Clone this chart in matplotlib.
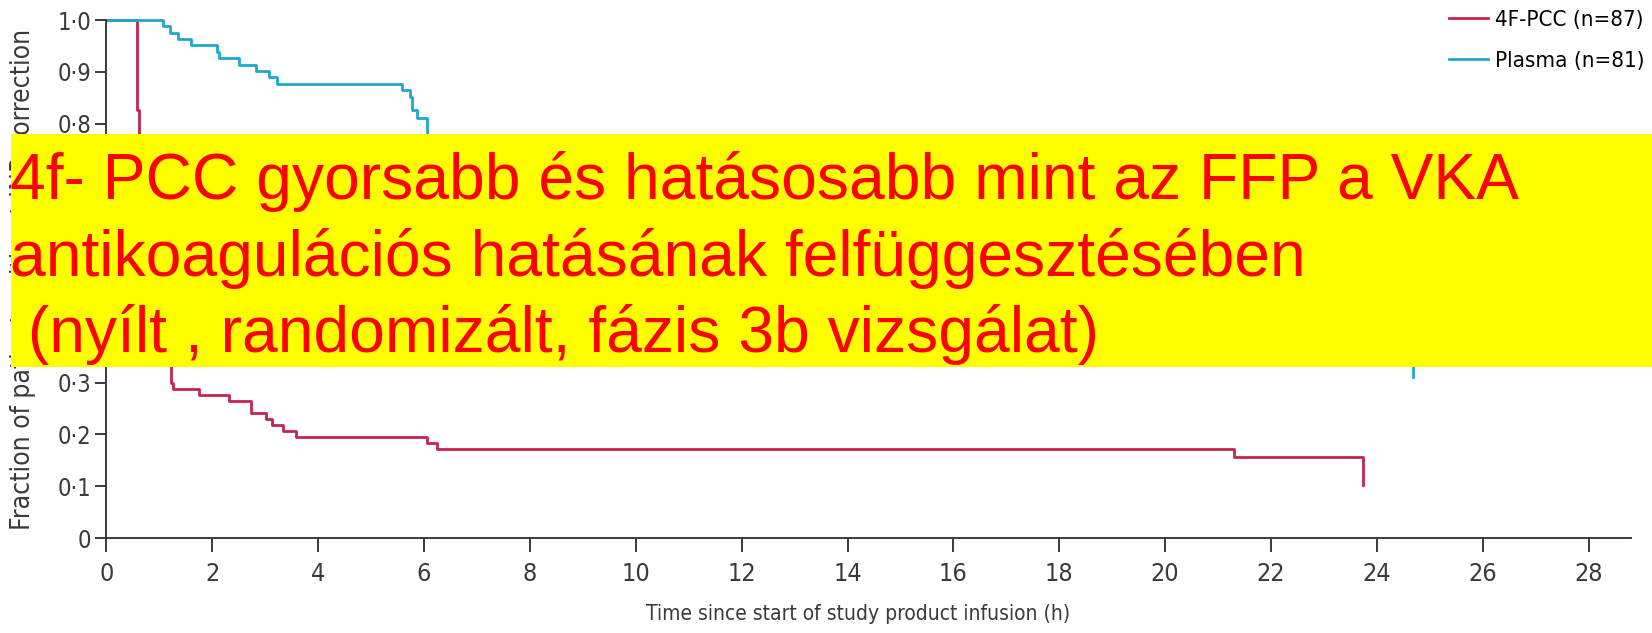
import matplotlib
matplotlib.use("Agg")
import matplotlib.pyplot as plt
from matplotlib import font_manager
from matplotlib.patches import Rectangle

# 4F-PCC curve (time in h, fraction without INR correction)
pcc_t = [0, 0.57, 0.62, 0.70, 0.80, 0.90, 1.00, 1.10, 1.22, 1.26, 1.75, 2.32,
         2.74, 3.02, 3.12, 3.33, 3.58, 6.05, 6.24, 21.3, 23.74]
pcc_s = [1.0, 0.826, 0.70, 0.60, 0.50, 0.42, 0.37, 0.34, 0.299, 0.287, 0.276,
         0.264, 0.241, 0.230, 0.218, 0.207, 0.195, 0.184, 0.172, 0.157, 0.103]

# Plasma curve
pl_t = [0, 1.06, 1.20, 1.36, 1.60, 2.08, 2.13, 2.51, 2.82, 3.07, 3.23, 5.59,
        5.73, 5.78, 5.87, 6.06, 6.3, 6.8, 7.5, 8.5, 10, 12, 15, 20, 24.68]
pl_s = [1.0, 0.988, 0.975, 0.963, 0.951, 0.938, 0.926, 0.914, 0.901, 0.889,
        0.877, 0.864, 0.852, 0.827, 0.810, 0.75, 0.68, 0.60, 0.53, 0.48, 0.44,
        0.41, 0.39, 0.36, 0.31]

xticks = list(range(0, 29, 2))
yticks = [0, 0.1, 0.2, 0.3, 0.4, 0.5, 0.6, 0.7, 0.8, 0.9, 1.0]
ytick_labels = ["0", "0·1", "0·2", "0·3", "0·4", "0·5", "0·6", "0·7", "0·8", "0·9", "1·0"]

banner_lines = ["4f- PCC gyorsabb és hatásosabb mint az FFP a VKA",
                "antikoagulációs hatásának felfüggesztésében",
                " (nyílt , randomizált, fázis 3b vizsgálat)"]

RED = "#c4254c"
BLUE = "#1fa8cc"
AXC = "#3a3a3a"


def narrow(size):
    # condensed face if one is around, else plain DejaVu
    return font_manager.FontProperties(family="DejaVu Sans", stretch="condensed", size=size)


fig = plt.figure(figsize=(16.52, 6.33), dpi=100)
ax = fig.add_axes([106.4 / 1652, 95 / 633, 1524.6 / 1652, 518 / 633])

ax.step(pcc_t, pcc_s, where="post", color=RED, lw=2, label="4F-PCC (n=87)", clip_on=False)
ax.step(pl_t, pl_s, where="post", color=BLUE, lw=2, label="Plasma (n=81)", clip_on=False)

ax.set_xlim(0, 28.8)
ax.set_ylim(0, 1.0)
for s in ["top", "right"]:
    ax.spines[s].set_visible(False)
for s in ["left", "bottom"]:
    ax.spines[s].set_color(AXC)
    ax.spines[s].set_linewidth(1.4)

ax.set_xticks(xticks)
ax.set_xticklabels([str(x) for x in xticks], fontproperties=narrow(18), color=AXC)
ax.set_yticks(yticks)
ax.set_yticklabels(ytick_labels, fontproperties=narrow(17), color=AXC)
ax.tick_params(axis="x", length=10, width=1.4, color=AXC, pad=7)
ax.tick_params(axis="y", length=8, width=1.4, color=AXC, pad=3)

ax.set_xlabel("Time since start of study product infusion (h)", fontproperties=narrow(15), color=AXC)
ax.xaxis.set_label_coords(0.4927, -0.128)
ax.set_ylabel("Fraction of patients without INR correction", fontproperties=narrow(19), color=AXC)
ax.yaxis.set_label_coords(-0.046, 0.5)

fig.legend(loc="upper right", bbox_to_anchor=(0.999, 1 - 4 / 633), frameon=False,
           prop=narrow(16), handlelength=1.75,
           handletextpad=0.35, labelspacing=0.95, borderpad=0.25, borderaxespad=0)

# yellow banner over the chart
fig.patches.append(Rectangle((11 / 1652, (633 - 367) / 633), 1 - 11 / 1652, 233 / 633,
                             transform=fig.transFigure, facecolor="#ffff00",
                             edgecolor="none", zorder=10))
for i, line in enumerate(banner_lines):
    yb = (633 - [199, 276, 352][i]) / 633
    fig.text(0.006, yb, line, color="#ff0000", fontsize=46.2, family="Liberation Sans",
             va="baseline", ha="left", zorder=11)

fig.savefig("out.png", dpi=100)
